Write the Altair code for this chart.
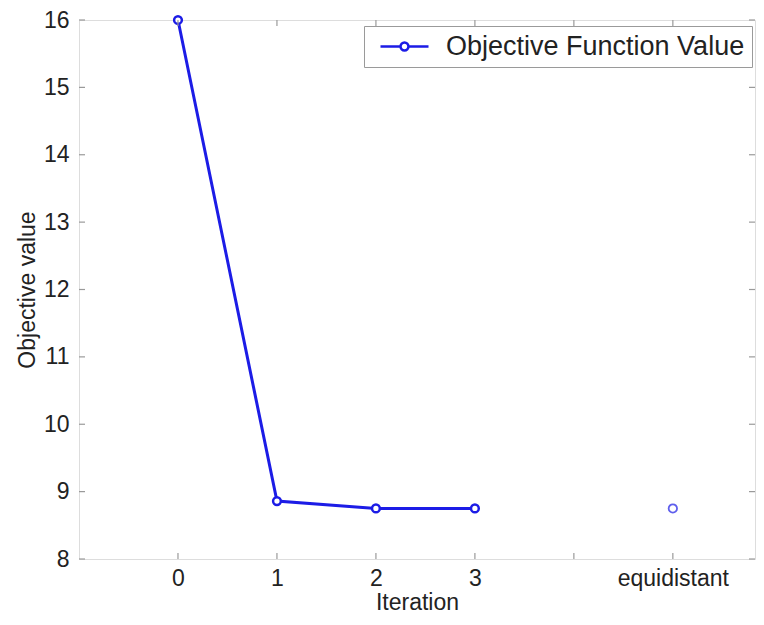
import altair as alt
import pandas as pd

# ---- data ----
iterations = [0, 1, 2, 3]
objective_values = [16.0, 8.86, 8.75, 8.75]
equidistant_position = [5]
equidistant_values = [8.75]
x_tick_values = [0, 1, 2, 3, 4, 5]
x_tick_labels = ["0", "1", "2", "3", "", "equidistant"]
y_tick_values = [8, 9, 10, 11, 12, 13, 14, 15, 16]
series_name = "Objective Function Value"

W, H = 676, 539
BLUE = "#1c1ce6"
GRAY = "#9a9a9a"
TEXT = "#222222"
FONT = "Liberation Sans"

line_df = pd.DataFrame({"iteration": iterations, "value": objective_values,
                        "series": [series_name] * len(iterations)})
eq_df = pd.DataFrame({"iteration": equidistant_position, "value": equidistant_values})
xt_df = pd.DataFrame({"t": x_tick_values})
yt_df = pd.DataFrame({"t": y_tick_values})

label_expr = ""
for v, lab in zip(x_tick_values, x_tick_labels):
    label_expr += f"datum.value == {v} ? '{lab}' : "
label_expr += "''"

xscale = alt.Scale(domain=[-1, 5.83], nice=False, zero=False)
yscale = alt.Scale(domain=[8, 16], nice=False, zero=False)

x_axis = alt.Axis(values=x_tick_values, labelExpr=label_expr, ticks=False, domain=False,
                  grid=False, labelPadding=8, labelFontSize=23, labelFont=FONT,
                  labelColor=TEXT, title="Iteration", titleFontSize=23, titleFont=FONT,
                  titleFontWeight="normal", titleColor=TEXT, titleBaseline="alphabetic",
                  titleY=50)
y_axis = alt.Axis(values=y_tick_values, ticks=False, domain=False, grid=False,
                  labelPadding=10, labelFontSize=23, labelFont=FONT, labelColor=TEXT,
                  title="Objective value", titleFontSize=23, titleFont=FONT,
                  titleFontWeight="normal", titleColor=TEXT, titlePadding=4)

legend_path = ("M-2,0L-0.33,0M0.33,0L2,0"
               "M-0.33,0A0.33,0.33 0 1,1 0.33,0A0.33,0.33 0 1,1 -0.33,0")

line = alt.Chart(line_df).mark_line(
    strokeWidth=3,
    point=alt.OverlayMarkDef(filled=False, fill="white", size=60, strokeWidth=2.5, color=BLUE),
).encode(
    x=alt.X("iteration:Q", scale=xscale, axis=x_axis),
    y=alt.Y("value:Q", scale=yscale, axis=y_axis),
    color=alt.Color("series:N", scale=alt.Scale(domain=[series_name], range=[BLUE]),
                    legend=alt.Legend(title=None, orient="none", legendX=285, legendY=6,
                                      symbolType=legend_path, symbolSize=576,
                                      symbolStrokeColor=BLUE, symbolFillColor="white",
                                      symbolStrokeWidth=2.5, labelFontSize=27,
                                      labelFont=FONT, labelColor=TEXT, labelOffset=28,
                                      labelLimit=500,
                                      symbolOffset=20, fillColor="white",
                                      strokeColor=GRAY, padding=7)),
)

eq_point = alt.Chart(eq_df).mark_point(shape="circle", filled=False, size=70,
                                       strokeWidth=1.8, color=BLUE).encode(
    x=alt.X("iteration:Q", scale=xscale, axis=x_axis),
    y=alt.Y("value:Q", scale=yscale, axis=y_axis),
)

tick_kw = dict(color=GRAY, strokeWidth=1.2)
y_ticks_left = alt.Chart(yt_df).mark_rule(**tick_kw).encode(
    y=alt.Y("t:Q", scale=yscale, axis=y_axis), x=alt.value(0), x2=alt.value(6))
y_ticks_right = alt.Chart(yt_df).mark_rule(**tick_kw).encode(
    y=alt.Y("t:Q", scale=yscale, axis=y_axis), x=alt.value(W - 6), x2=alt.value(W))
x_ticks_bottom = alt.Chart(xt_df).mark_rule(**tick_kw).encode(
    x=alt.X("t:Q", scale=xscale, axis=x_axis), y=alt.value(H - 6), y2=alt.value(H))
x_ticks_top = alt.Chart(xt_df).mark_rule(**tick_kw).encode(
    x=alt.X("t:Q", scale=xscale, axis=x_axis), y=alt.value(0), y2=alt.value(6))

chart = alt.layer(
    line, eq_point, y_ticks_left, y_ticks_right, x_ticks_bottom, x_ticks_top
).properties(
    width=W, height=H,
    autosize=alt.AutoSizeParams(type="none"),
    padding={"left": 71, "top": 12, "right": 1, "bottom": 55},
).configure_view(
    stroke=GRAY, strokeWidth=1.5
).configure(background="white")

chart.save("out.html", embed_options={"renderer": "svg", "actions": False})
